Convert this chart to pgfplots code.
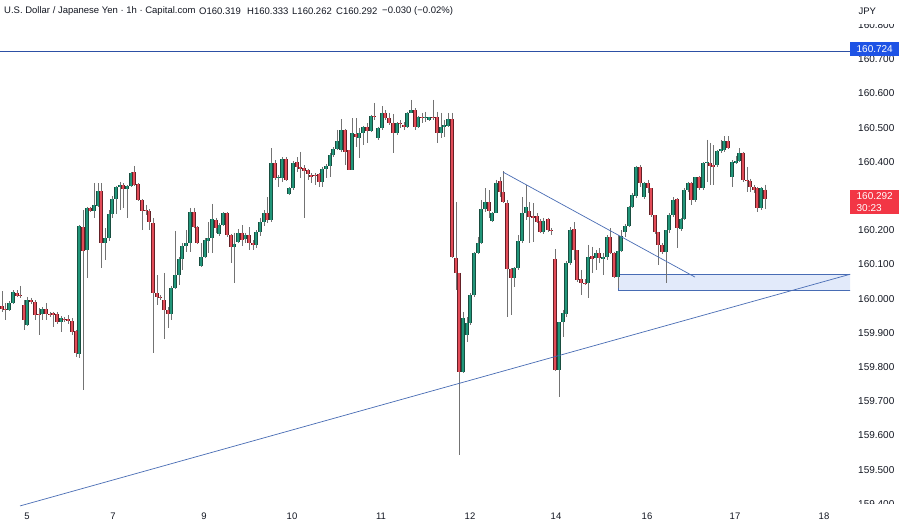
\documentclass[border=0pt]{standalone}
\usepackage{fontspec}
\setmainfont{Liberation Sans}
\usepackage{pgfplots}
\usepackage{pgfplotstable}
\pgfplotsset{compat=1.18}
\definecolor{upc}{RGB}{34,150,122}
\definecolor{upe}{RGB}{24,78,64}
\definecolor{dnc}{RGB}{226,76,88}
\definecolor{dne}{RGB}{100,32,38}
\definecolor{wick}{RGB}{115,115,115}
\definecolor{tl}{RGB}{72,108,180}
\definecolor{hl}{RGB}{45,80,165}
\definecolor{boxf}{RGB}{226,234,250}
\definecolor{lblue}{RGB}{30,83,229}
\definecolor{lred}{RGB}{242,54,69}
\definecolor{txt}{RGB}{19,23,34}
% rising candles
\pgfplotstableread{
x o h l c
9 159.967 159.993 159.964 159.987
13 159.987 160.025 159.984 160.019
27 159.923 160.005 159.920 159.996
42 159.955 159.975 159.937 159.970
61 159.931 159.949 159.902 159.943
79 159.838 160.215 159.826 160.212
87 160.142 160.268 160.060 160.265
94 160.256 160.338 160.236 160.274
98 160.271 160.338 160.268 160.315
105 160.162 160.206 160.113 160.177
109 160.177 160.259 160.168 160.247
112 160.247 160.300 160.236 160.291
116 160.291 160.329 160.247 160.326
120 160.326 160.341 160.259 160.332
127 160.320 160.332 160.236 160.329
131 160.329 160.370 160.326 160.367
171 159.955 160.037 159.937 160.031
175 160.031 160.198 160.028 160.069
179 160.069 160.121 160.040 160.116
182 160.116 160.162 160.084 160.154
186 160.154 160.200 160.136 160.162
190 160.162 160.265 160.136 160.253
201 160.095 160.162 160.092 160.121
205 160.121 160.177 160.119 160.171
208 160.168 160.224 160.133 160.177
212 160.177 160.277 160.133 160.233
219 160.189 160.221 160.183 160.215
223 160.215 160.253 160.212 160.250
234 160.151 160.192 160.046 160.160
238 160.165 160.203 160.162 160.192
245 160.174 160.192 160.162 160.186
256 160.157 160.200 160.148 160.195
260 160.195 160.236 160.183 160.224
264 160.224 160.259 160.212 160.250
271 160.230 160.440 160.224 160.396
278 160.353 160.361 160.326 160.355
282 160.353 160.414 160.341 160.408
289 160.306 160.326 160.303 160.323
293 160.323 160.402 160.317 160.396
322 160.341 160.385 160.326 160.379
326 160.379 160.393 160.353 160.388
330 160.388 160.426 160.355 160.420
333 160.420 160.443 160.414 160.437
337 160.437 160.493 160.434 160.461
341 160.434 160.525 160.429 160.493
352 160.376 160.528 160.376 160.484
359 160.469 160.499 160.411 160.484
363 160.484 160.505 160.449 160.502
371 160.490 160.537 160.487 160.534
378 160.469 160.502 160.464 160.499
382 160.499 160.563 160.493 160.543
397 160.484 160.516 160.478 160.513
407 160.502 160.546 160.499 160.543
411 160.543 160.581 160.543 160.551
418 160.502 160.534 160.499 160.531
425 160.528 160.546 160.516 160.531
429 160.522 160.531 160.519 160.531
441 160.484 160.543 160.469 160.502
444 160.502 160.522 160.472 160.508
448 160.505 160.543 160.502 160.525
463 159.785 159.961 159.782 159.943
467 159.893 159.946 159.873 159.929
470 159.929 160.016 159.923 160.010
474 160.010 160.136 160.005 160.133
478 160.133 160.180 160.130 160.162
481 160.162 160.288 160.160 160.262
485 160.262 160.323 160.253 160.282
492 160.227 160.253 160.224 160.250
496 160.250 160.347 160.250 160.338
514 160.060 160.092 160.034 160.089
518 160.089 160.186 160.084 160.168
522 160.168 160.297 160.162 160.250
526 160.250 160.332 160.230 160.268
543 160.195 160.236 160.189 160.227
559 159.791 159.931 159.712 159.931
563 159.931 159.967 159.888 159.958
566 159.955 160.110 159.946 160.104
570 160.104 160.209 160.098 160.200
588 160.046 160.157 160.002 160.121
596 160.119 160.142 160.084 160.133
603 160.116 160.133 160.069 160.121
607 160.121 160.186 160.113 160.180
618 160.063 160.186 160.031 160.139
621 160.139 160.200 160.136 160.183
625 160.195 160.218 160.180 160.212
629 160.212 160.271 160.209 160.268
632 160.268 160.309 160.265 160.303
636 160.300 160.388 160.294 160.385
644 160.297 160.341 160.291 160.338
666 160.136 160.200 160.046 160.200
669 160.200 160.250 160.192 160.244
673 160.244 160.297 160.238 160.288
681 160.203 160.236 160.198 160.233
684 160.233 160.323 160.230 160.317
688 160.317 160.341 160.312 160.338
695 160.288 160.355 160.282 160.355
703 160.323 160.399 160.317 160.396
707 160.396 160.464 160.341 160.399
717 160.390 160.434 160.385 160.431
721 160.431 160.464 160.426 160.437
724 160.434 160.475 160.429 160.461
732 160.355 160.405 160.326 160.399
736 160.396 160.417 160.393 160.402
739 160.402 160.440 160.399 160.426
761 160.265 160.326 160.259 160.323
}\up
% falling candles
\pgfplotstableread{
x o h l c
2 159.978 160.022 159.961 159.970
5 159.970 159.987 159.937 159.967
17 160.016 160.025 160.005 160.008
20 160.010 160.037 160.002 160.008
24 159.981 159.996 159.908 159.937
31 159.996 160.002 159.984 159.990
35 159.990 159.996 159.937 159.952
39 159.955 159.972 159.893 159.952
46 159.970 159.987 159.937 159.955
50 159.955 159.961 159.946 159.952
53 159.958 159.961 159.917 159.952
57 159.955 159.961 159.926 159.931
64 159.940 159.946 159.931 159.937
68 159.940 159.952 159.926 159.934
72 159.934 159.943 159.893 159.902
76 159.905 159.908 159.829 159.841
83 160.209 160.259 159.733 160.139
90 160.265 160.268 160.253 160.256
101 160.315 160.338 160.089 160.162
123 160.332 160.338 160.265 160.320
134 160.370 160.388 160.329 160.332
138 160.335 160.338 160.285 160.288
142 160.288 160.291 160.200 160.256
146 160.259 160.274 160.244 160.256
149 160.256 160.262 160.200 160.224
153 160.221 160.236 159.841 160.016
157 160.016 160.069 159.981 160.005
160 160.005 160.010 159.996 160.002
164 159.996 160.075 159.882 159.967
168 159.967 159.975 159.914 159.955
194 160.253 160.265 160.206 160.209
197 160.209 160.212 160.160 160.162
216 160.230 160.236 160.192 160.206
227 160.250 160.253 160.180 160.186
231 160.186 160.189 160.104 160.151
242 160.192 160.215 160.154 160.171
249 160.186 160.209 160.142 160.162
253 160.162 160.171 160.142 160.157
267 160.250 160.297 160.221 160.230
275 160.396 160.405 160.347 160.353
286 160.408 160.414 160.344 160.347
297 160.399 160.414 160.370 160.385
300 160.385 160.429 160.353 160.379
304 160.382 160.390 160.236 160.373
308 160.376 160.379 160.347 160.364
311 160.361 160.367 160.338 160.355
315 160.361 160.367 160.332 160.358
319 160.364 160.367 160.326 160.341
345 160.493 160.496 160.390 160.429
349 160.434 160.434 160.376 160.376
356 160.481 160.528 160.443 160.472
367 160.502 160.513 160.455 160.490
374 160.534 160.572 160.522 160.531
385 160.543 160.551 160.522 160.528
389 160.528 160.543 160.508 160.513
393 160.513 160.540 160.426 160.484
400 160.513 160.522 160.499 160.510
404 160.508 160.516 160.493 160.502
415 160.551 160.557 160.493 160.502
422 160.531 160.543 160.513 160.528
433 160.531 160.581 160.522 160.528
437 160.531 160.546 160.455 160.484
452 160.525 160.543 160.119 160.121
456 160.119 160.282 160.025 160.075
459 160.075 160.075 159.543 159.785
489 160.282 160.317 160.236 160.256
500 160.344 160.355 160.297 160.312
503 160.312 160.373 160.279 160.282
507 160.279 160.288 159.946 160.086
511 160.086 160.089 159.952 160.060
529 160.256 160.282 160.162 160.238
533 160.241 160.279 160.165 160.236
537 160.241 160.250 160.221 160.224
540 160.227 160.233 160.192 160.195
548 160.233 160.236 160.195 160.200
551 160.200 160.206 160.186 160.198
555 160.116 160.145 159.788 159.791
574 160.203 160.224 160.113 160.142
577 160.142 160.142 160.048 160.054
581 160.057 160.084 160.010 160.046
585 160.046 160.057 160.040 160.043
592 160.124 160.151 160.075 160.116
599 160.133 160.148 160.104 160.119
610 160.180 160.206 160.130 160.133
614 160.133 160.136 160.060 160.063
640 160.385 160.390 160.326 160.338
648 160.338 160.347 160.309 160.323
651 160.323 160.323 160.238 160.244
655 160.244 160.244 160.189 160.195
658 160.195 160.195 160.098 160.157
662 160.157 160.162 160.130 160.136
677 160.291 160.294 160.148 160.206
691 160.338 160.341 160.274 160.288
699 160.355 160.358 160.317 160.323
710 160.396 160.455 160.332 160.388
713 160.390 160.449 160.332 160.385
728 160.461 160.475 160.437 160.440
743 160.426 160.429 160.341 160.347
747 160.347 160.385 160.312 160.344
750 160.344 160.350 160.312 160.326
754 160.326 160.332 160.309 160.317
757 160.323 160.326 160.253 160.265
765 160.319 160.333 160.262 160.292
}\dn

\begin{document}
\begin{tikzpicture}[x=1pt,y=1pt]
\fill[white] (0,0) rectangle (900,524);
\begin{axis}[
  at={(0pt,16pt)}, anchor=south west,
  scale only axis, width=850pt, height=508pt,
  xmin=0, xmax=850, ymin=159.388, ymax=160.873,
  axis line style={draw=none}, tick style={draw=none},
  ytick={159.4,159.5,159.6,159.7,159.8,159.9,160.0,160.1,160.2,160.4,160.5,160.6,160.7,160.8},
  yticklabel pos=right,
  yticklabel style={anchor=west, xshift=8pt, inner sep=0pt, font=\fontsize{10}{12}\selectfont, text=txt},
  /pgf/number format/fixed, /pgf/number format/fixed zerofill,
  /pgf/number format/precision=3, /pgf/number format/1000 sep={},
  /pgf/number format/assume math mode=true,
  xtick={27,113,204,292,381,470,556,647,735,824},
  xticklabels={5,7,9,10,11,12,14,16,17,18},
  xticklabel style={font=\fontsize{9.5}{11}\selectfont, text=txt, yshift=-1pt},
  wick/.style={forget plot, draw=none, mark=none, error bars/.cd, y dir=minus, y explicit, error mark=none, error bar style={draw=wick, line width=0.75pt}},
  body/.style 2 args={forget plot, draw=none, mark=none, error bars/.cd, y dir=minus, y explicit, error mark=none, error bar style={draw=#1, line width=#2}},
]
% zone
\addplot [forget plot, fill=boxf, draw=tl, line width=0.7pt] coordinates {(618,160.025) (851,160.025) (851,160.072) (618,160.072) (618,160.025)};
% wicks
\addplot [wick] table [x=x, y=h, y error expr={\thisrow{h}-\thisrow{l}}] {\up};
\addplot [wick] table [x=x, y=h, y error expr={\thisrow{h}-\thisrow{l}}] {\dn};
% bodies
\addplot [body={upe}{3.1pt}] table [x=x, y=c, y error expr={\thisrow{c}-\thisrow{o}}] {\up};
\addplot [body={upc}{1.9pt}] table [x=x, y=c, y error expr={\thisrow{c}-\thisrow{o}}] {\up};
\addplot [body={dne}{3.1pt}] table [x=x, y=o, y error expr={\thisrow{o}-\thisrow{c}}] {\dn};
\addplot [body={dnc}{1.9pt}] table [x=x, y=o, y error expr={\thisrow{o}-\thisrow{c}}] {\dn};
% lines
\addplot [forget plot, hl, line width=0.8pt] coordinates {(0,160.724) (850,160.724)};
\addplot [forget plot, tl, line width=0.7pt] coordinates {(20,159.394) (851,160.072)};
\addplot [forget plot, tl, line width=0.7pt] coordinates {(503,160.370) (695,160.063)};
\end{axis}
% cover parts of cut labels
\fill[white] (850,499.5) rectangle (900,524);
\fill[white] (850,0) rectangle (900,19.5);
\node[text=txt, font=\fontsize{9.5}{11}\selectfont, anchor=west] at (855,513) {JPY};
% price labels
\node[fill=lblue, text=white, font=\fontsize{10}{12}\selectfont, anchor=west, minimum width=49pt, minimum height=14pt, inner sep=1.5pt] at (850,475) {160.724};
\node[fill=lred, text=white, font=\fontsize{10}{12}\selectfont, anchor=north west, minimum width=49pt, align=left, inner sep=2.5pt] at (850,334) {160.292\\30:23};
% header
\begin{scope}[every node/.style={text=txt, font=\fontsize{9.5}{11}\selectfont, anchor=west, inner sep=0pt}]
\node at (4,513) {U.S. Dollar / Japanese Yen · 1h · Capital.com};
\node at (199,513) {O160.319};
\node at (247,513) {H160.333};
\node at (292,513) {L160.262};
\node at (336,513) {C160.292};
\node at (382,513) {−0.030 (−0.02\%)};
\end{scope}
\pgfresetboundingbox
\useasboundingbox (0,0) rectangle (900,524);
\end{tikzpicture}
\end{document}
